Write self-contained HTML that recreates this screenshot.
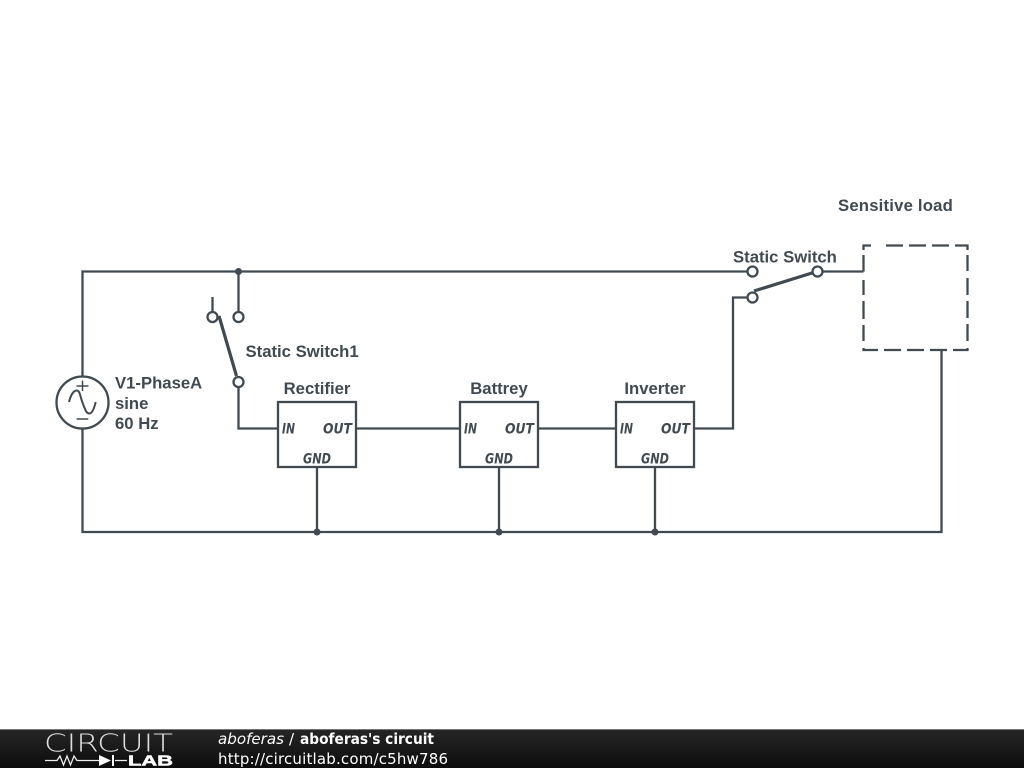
<!DOCTYPE html>
<html><head><meta charset="utf-8"><style>
html,body{margin:0;padding:0;background:#fff;width:1024px;height:768px;overflow:hidden}
svg{display:block}
.l{font-family:"Liberation Sans",sans-serif;font-weight:700;font-size:16.7px;fill:#414a50}
.p{font-family:"DejaVu Sans",sans-serif;font-weight:700;font-style:italic;font-size:14.5px;fill:#414a50}
.f{font-family:"DejaVu Sans",sans-serif;font-size:15px;fill:#fff}
</style></head><body>
<svg width="1024" height="768" viewBox="0 0 1024 768" xmlns="http://www.w3.org/2000/svg">
<defs><linearGradient id="g" x1="0" y1="0" x2="0" y2="1"><stop offset="0" stop-color="#262626"/><stop offset="1" stop-color="#0c0c0c"/></linearGradient></defs>
<g fill="none" stroke="#414a50" stroke-width="2.3">
<path d="M82.500 376V271.500H747M238.500 271.500V311M212.500 297V311M238.500 387V428.500H278M356 428.500H460M538 428.500H616M694 428.500H733V297.500H747M823 271.500H863.500M82.500 429V532H941.500V350M317 467V532M499 467V532M655 467V532"/>
<circle cx="82.500" cy="402.500" r="26"/>
<circle cx="212.500" cy="317" r="5" fill="#fff"/><circle cx="238.500" cy="317" r="5" fill="#fff"/><circle cx="238.500" cy="382" r="5" fill="#fff"/>
<circle cx="752.500" cy="271.500" r="5" fill="#fff"/><circle cx="752.500" cy="297.500" r="5" fill="#fff"/><circle cx="817.500" cy="271.500" r="5" fill="#fff"/>
<path d="M219 316L236.500 376M754 291L812 273" stroke-width="3.200"/>
<rect x="278" y="402" width="78" height="65" fill="#fff"/><rect x="460" y="402" width="78" height="65" fill="#fff"/><rect x="616" y="402" width="78" height="65" fill="#fff"/>
<path d="M863.500 250V245.500H871M886 245.500H903M909 245.500H926M932 245.500H949M955 245.500H967.500V250M967.500 255V271M967.500 278V295M967.500 301V318M967.500 324V341M967.500 348V350H953M947 350H930M924 350H907M901 350H884M878 350H863.500V348M863.500 341V325M863.500 319V301M863.500 295V280M863.500 271.500V255"/>
<path d="M69 402C71 394 74 390.500 76.700 390.500C80 390.500 80 396 82.300 402C85 409 86 413.500 89.300 413.500C92 413.500 94 409 95.700 402" stroke-width="2"/>
<path d="M76.500 386H88.500M82.500 380.500V391M76.700 419H88.300" stroke-width="1.500"/>
</g>
<g fill="#414a50"><circle cx="238.500" cy="271.500" r="3.500"/><circle cx="317" cy="532" r="3.500"/><circle cx="499" cy="532" r="3.500"/><circle cx="655" cy="532" r="3.500"/></g>
<text class="l" x="115" y="388.500">V1-PhaseA</text><text class="l" x="115" y="409">sine</text><text class="l" x="115" y="429">60 Hz</text>
<text class="l" x="245.500" y="357">Static Switch1</text>
<text class="l" x="317" y="394" text-anchor="middle">Rectifier</text>
<text class="l" x="499" y="394" text-anchor="middle">Battrey</text>
<text class="l" x="655" y="394" text-anchor="middle">Inverter</text>
<text class="l" x="733" y="262.500">Static Switch</text>
<text class="l" x="838" y="211" letter-spacing=".2">Sensitive load</text>
<text class="p" x="282" y="433.300" textLength="13" lengthAdjust="spacingAndGlyphs">IN</text><text class="p" x="323" y="433.300" textLength="29" lengthAdjust="spacingAndGlyphs">OUT</text><text class="p" x="303" y="463.500" textLength="28" lengthAdjust="spacingAndGlyphs">GND</text>
<text class="p" x="464" y="433.300" textLength="13" lengthAdjust="spacingAndGlyphs">IN</text><text class="p" x="505" y="433.300" textLength="29" lengthAdjust="spacingAndGlyphs">OUT</text><text class="p" x="485" y="463.500" textLength="28" lengthAdjust="spacingAndGlyphs">GND</text>
<text class="p" x="620" y="433.300" textLength="13" lengthAdjust="spacingAndGlyphs">IN</text><text class="p" x="661" y="433.300" textLength="29" lengthAdjust="spacingAndGlyphs">OUT</text><text class="p" x="641" y="463.500" textLength="28" lengthAdjust="spacingAndGlyphs">GND</text>
<rect x="0" y="729" width="1024" height="39" fill="url(#g)"/>
<rect x="0" y="729" width="1024" height="1" fill="#777"/>
<text x="44" y="751.500" font-family="DejaVu Sans,sans-serif" font-weight="200" font-size="25" fill="#ddd" textLength="129" lengthAdjust="spacingAndGlyphs">CIRCUIT</text>
<path d="M45 760.500H57L60 756L63.500 765L67 756L70.500 765L74 756L77 760.500H99M115 760.500H127" fill="none" stroke="#eee" stroke-width="1.300"/>
<path d="M99 755L111 760.500L99 766Z M112 755H114V766H112Z" fill="#fff"/>
<text x="128" y="765.500" font-family="Liberation Sans,sans-serif" font-size="14.500" font-weight="700" fill="#fff" stroke="#fff" stroke-width=".5" textLength="45" lengthAdjust="spacingAndGlyphs">LAB</text>
<text class="f" x="218" y="744" font-style="italic" textLength="66" lengthAdjust="spacingAndGlyphs">aboferas</text>
<text class="f" x="289" y="744">/</text>
<text class="f" x="300" y="744" font-weight="700" textLength="134" lengthAdjust="spacingAndGlyphs">aboferas's circuit</text>
<text class="f" x="218" y="764" textLength="230">http://circuitlab.com/c5hw786</text>
</svg>
</body></html>
